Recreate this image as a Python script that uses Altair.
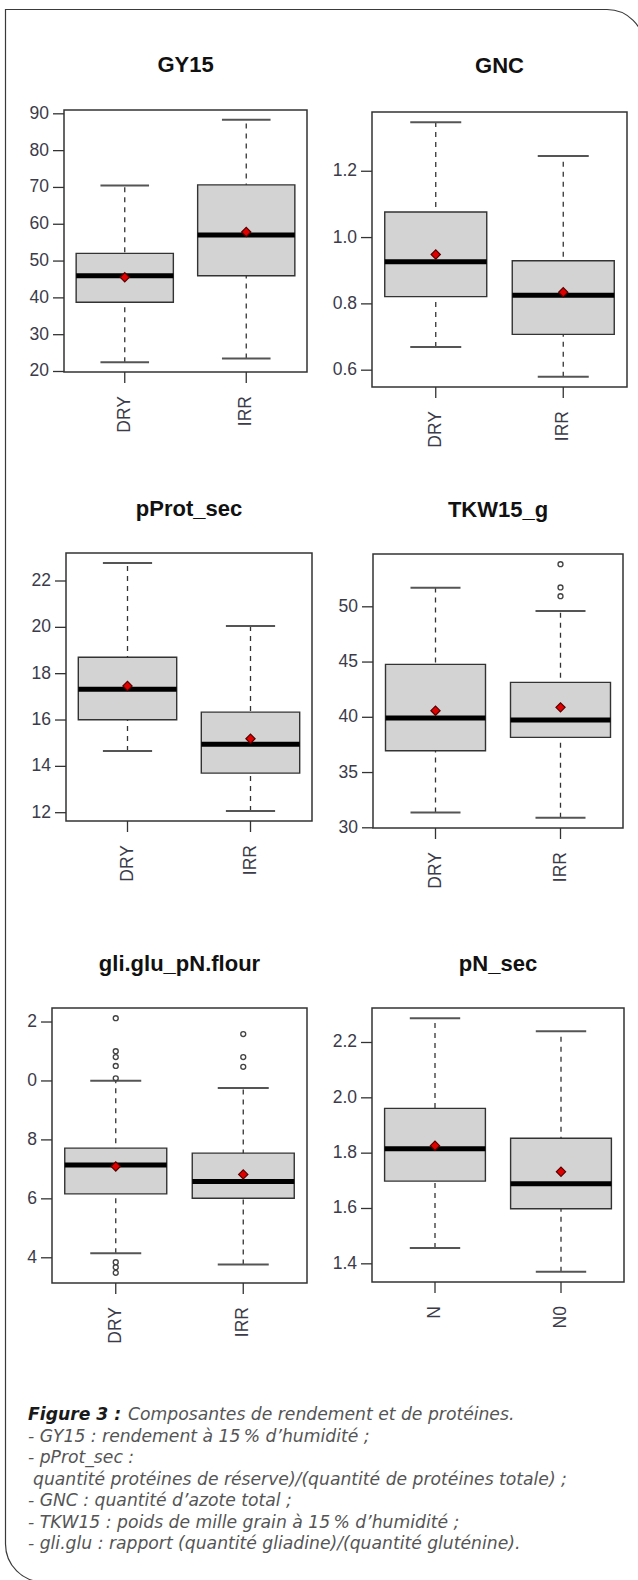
import altair as alt
import pandas as pd

# ---------------------------------------------------------------------------
# Summary statistics of each variable (whisker ends, quartiles, median, mean)
# ---------------------------------------------------------------------------
trt = ["DRY", "IRR"]
nit = ["N", "N0"]

gy15_min = [22.5, 23.5]
gy15_q1 = [38.8, 46.0]
gy15_med = [46.0, 57.1]
gy15_q3 = [52.1, 70.7]
gy15_max = [70.5, 88.4]
gy15_mean = [45.6, 57.9]
gy15_ticks = [20, 30, 40, 50, 60, 70, 80, 90]
gy15_labels = ["20", "30", "40", "50", "60", "70", "80", "90"]

gnc_min = [0.670, 0.580]
gnc_q1 = [0.822, 0.708]
gnc_med = [0.927, 0.826]
gnc_q3 = [1.077, 0.930]
gnc_max = [1.348, 1.246]
gnc_mean = [0.949, 0.835]
gnc_ticks = [0.6, 0.8, 1.0, 1.2]
gnc_labels = ["0.6", "0.8", "1.0", "1.2"]

pprot_min = [14.66, 12.07]
pprot_q1 = [16.01, 13.71]
pprot_med = [17.33, 14.95]
pprot_q3 = [18.71, 16.34]
pprot_max = [22.78, 20.06]
pprot_mean = [17.47, 15.19]
pprot_ticks = [12, 14, 16, 18, 20, 22]
pprot_labels = ["12", "14", "16", "18", "20", "22"]

tkw_min = [31.39, 30.90]
tkw_q1 = [36.97, 38.18]
tkw_med = [39.93, 39.75]
tkw_q3 = [44.79, 43.16]
tkw_max = [51.72, 49.61]
tkw_mean = [40.60, 40.90]
tkw_out_grp = ["IRR", "IRR", "IRR"]
tkw_out_val = [50.96, 51.75, 53.86]
tkw_ticks = [30, 35, 40, 45, 50]
tkw_labels = ["30", "35", "40", "45", "50"]

gli_min = [4.15, 3.77]
gli_q1 = [6.17, 6.02]
gli_med = [7.15, 6.59]
gli_q3 = [7.72, 7.55]
gli_max = [10.01, 9.76]
gli_mean = [7.10, 6.83]
gli_out_grp = ["DRY"] * 8 + ["IRR"] * 3
gli_out_val = [10.09, 10.51, 10.81, 11.01, 12.13, 3.85, 3.68, 3.49,
               10.48, 10.81, 11.59]
gli_ticks = [4, 6, 8, 10, 12]
gli_labels = ["4", "6", "8", "0", "2"]

pn_min = [1.457, 1.371]
pn_q1 = [1.699, 1.599]
pn_med = [1.816, 1.689]
pn_q3 = [1.962, 1.854]
pn_max = [2.288, 2.241]
pn_mean = [1.827, 1.733]
pn_ticks = [1.4, 1.6, 1.8, 2.0, 2.2]
pn_labels = ["1.4", "1.6", "1.8", "2.0", "2.2"]

caption_head = "Figure 3 :"
caption_first = "Composantes de rendement et de protéines."
caption_lines = [
    "- GY15 : rendement à 15\u202f% d’humidité ;",
    "- pProt_sec :",
    "quantité protéines de réserve)/(quantité de protéines totale) ;",
    "- GNC : quantité d’azote total ;",
    "- TKW15 : poids de mille grain à 15\u202f% d’humidité ;",
    "- gli.glu : rapport (quantité gliadine)/(quantité gluténine).",
]
caption_indent = [0, 0, 5, 0, 0, 0]

# ---------------------------------------------------------------------------
# Styling
# ---------------------------------------------------------------------------
FONT = "Liberation Sans"
INK = "#333333"
LABEL_INK = "#3b3b4a"
BOX_FILL = "#d3d3d3"


def one_row():
    return pd.DataFrame({"k": [0]})


def boxpanel(title, groups, mn, q1, med, q3, mx, mean, ticks, labels,
             frame, out_grp=None, out_val=None):
    """R-style boxplot panel placed at frame = (left, right, top, bottom, title_y)."""
    L, R, T, B, ty = frame
    out_grp = out_grp or []
    out_val = out_val or []

    stats = pd.DataFrame({
        "grp": groups, "pos": [1, 2],
        "lo": mn, "q1": q1, "med": med, "q3": q3, "hi": mx, "mean": mean,
    })
    # axis limits as in R: data range extended by 4 % on each side
    allv = mn + mx + out_val
    vmin, vmax = min(allv), max(allv)
    pad = 0.04 * (vmax - vmin)

    xs = alt.Scale(domain=[0.5, 2.5], range=[L, R])
    ys = alt.Scale(domain=[vmin - pad, vmax + pad], range=[B, T], nice=False, zero=False)

    def X(f):
        return alt.X(f"{f}:Q", scale=xs, axis=None)

    def Y(f):
        return alt.Y(f"{f}:Q", scale=ys, axis=None)

    base = alt.Chart(stats).transform_calculate(
        x0="datum.pos - 0.4", x1="datum.pos + 0.4",
        c0="datum.pos - 0.2", c1="datum.pos + 0.2",
    )

    frame_rect = alt.Chart(one_row()).mark_rect(
        filled=False, stroke=INK, strokeWidth=1.5
    ).encode(x=alt.value(L), x2=alt.value(R), y=alt.value(T), y2=alt.value(B))

    whisker = base.mark_rule(color=INK, strokeWidth=1.3, strokeDash=[5, 5]).encode(
        x=X("pos"), y=Y("lo"), y2=alt.Y2("hi"))
    cap_lo = base.mark_rule(color="#555555", strokeWidth=2).encode(
        x=X("c0"), x2=alt.X2("c1"), y=Y("lo"))
    cap_hi = base.mark_rule(color="#555555", strokeWidth=2).encode(
        x=X("c0"), x2=alt.X2("c1"), y=Y("hi"))
    box = base.mark_rect(fill=BOX_FILL, stroke=INK, strokeWidth=1.4).encode(
        x=X("x0"), x2=alt.X2("x1"), y=Y("q1"), y2=alt.Y2("q3"))
    median = base.mark_rule(color="black", strokeWidth=5).encode(
        x=X("x0"), x2=alt.X2("x1"), y=Y("med"))
    mean_pt = base.mark_point(
        shape="diamond", filled=True, size=85, fill="#e00000",
        stroke="#5a0000", strokeWidth=1.2, opacity=1,
    ).encode(x=X("pos"), y=Y("mean"))

    ticks_df = pd.DataFrame({"t": ticks, "lab": labels})
    ytick = alt.Chart(ticks_df).mark_rule(color=INK, strokeWidth=1.3).encode(
        x=alt.value(L - 11), x2=alt.value(L), y=Y("t"))
    ylab = alt.Chart(ticks_df).mark_text(
        align="right", baseline="middle", font=FONT, fontSize=17.5, color=LABEL_INK
    ).encode(x=alt.value(L - 15), y=Y("t"), text="lab:N")

    xtick = base.mark_rule(color=INK, strokeWidth=1.3).encode(
        x=X("pos"), y=alt.value(B), y2=alt.value(B + 11))
    xlab = base.mark_text(
        angle=270, align="right", baseline="middle", font=FONT, fontSize=17.5,
        color=LABEL_INK,
    ).encode(x=X("pos"), y=alt.value(B + 24), text="grp:N")

    ttl = alt.Chart(one_row()).mark_text(
        align="center", baseline="middle", font=FONT, fontSize=22,
        fontWeight="bold", color="#111111",
    ).encode(x=alt.value((L + R) / 2), y=alt.value(ty), text=alt.value(title))

    layers = [frame_rect, whisker, cap_lo, cap_hi, box, median, mean_pt]
    if out_val:
        out_df = pd.DataFrame({
            "pos": [groups.index(g) + 1 for g in out_grp], "val": out_val})
        outliers = alt.Chart(out_df).mark_point(
            shape="circle", filled=False, size=24, color="#444444",
            strokeWidth=1.4, opacity=1,
        ).encode(x=X("pos"), y=Y("val"))
        layers.append(outliers)
    layers += [ytick, ylab, xtick, xlab, ttl]
    return alt.layer(*layers)


panels = [
    boxpanel("GY15", trt, gy15_min, gy15_q1, gy15_med, gy15_q3, gy15_max,
             gy15_mean, gy15_ticks, gy15_labels, (64, 307, 110, 372, 65)),
    boxpanel("GNC", trt, gnc_min, gnc_q1, gnc_med, gnc_q3, gnc_max,
             gnc_mean, gnc_ticks, gnc_labels, (372, 627, 112, 387, 66)),
    boxpanel("pProt_sec", trt, pprot_min, pprot_q1, pprot_med, pprot_q3,
             pprot_max, pprot_mean, pprot_ticks, pprot_labels,
             (66, 312, 553, 821, 509)),
    boxpanel("TKW15_g", trt, tkw_min, tkw_q1, tkw_med, tkw_q3, tkw_max,
             tkw_mean, tkw_ticks, tkw_labels, (373, 623, 554, 828, 510),
             tkw_out_grp, tkw_out_val),
    boxpanel("gli.glu_pN.flour", trt, gli_min, gli_q1, gli_med, gli_q3,
             gli_max, gli_mean, gli_ticks, gli_labels,
             (52, 307, 1008, 1283, 964), gli_out_grp, gli_out_val),
    boxpanel("pN_sec", nit, pn_min, pn_q1, pn_med, pn_q3, pn_max, pn_mean,
             pn_ticks, pn_labels, (372, 624, 1008, 1282, 964)),
]

# page frame with rounded top-right and bottom-left corners
border = alt.Chart(one_row()).mark_rect(
    filled=False, stroke="#3a3a3a", strokeWidth=1.2,
    cornerRadiusTopRight=37, cornerRadiusBottomLeft=38,
).encode(x=alt.value(5.5), x2=alt.value(644), y=alt.value(9.5), y2=alt.value(1582))

CAP_FONT = "DejaVu Sans"
CAP_SIZE = 17.2
CAP_X = 28
CAP_Y0 = 1415
CAP_STEP = 21.5

caption = [
    alt.Chart(one_row()).mark_text(
        align="left", baseline="middle", font=CAP_FONT, fontSize=CAP_SIZE,
        fontStyle="italic", fontWeight="bold", color="#1a1a1a",
    ).encode(x=alt.value(CAP_X), y=alt.value(CAP_Y0), text=alt.value(caption_head)),
    alt.Chart(one_row()).mark_text(
        align="left", baseline="middle", font=CAP_FONT, fontSize=CAP_SIZE,
        fontStyle="italic", fontWeight=200, color="#555555",
    ).encode(x=alt.value(128), y=alt.value(CAP_Y0), text=alt.value(caption_first)),
]
for i, (line, ind) in enumerate(zip(caption_lines, caption_indent)):
    caption.append(
        alt.Chart(one_row()).mark_text(
            align="left", baseline="middle", font=CAP_FONT, fontSize=CAP_SIZE,
            fontStyle="italic", fontWeight=200, color="#555555",
        ).encode(x=alt.value(CAP_X + ind), y=alt.value(CAP_Y0 + CAP_STEP * (i + 1)),
                 text=alt.value(line))
    )

chart = alt.layer(border, *panels, *caption).resolve_scale(
    x="independent", y="independent"
).properties(
    width=638, height=1580, padding=0,
    autosize=alt.AutoSizeParams(type="none"),
).configure_view(stroke=None)

chart.save("out.html", embed_options={"renderer": "svg", "actions": False})
